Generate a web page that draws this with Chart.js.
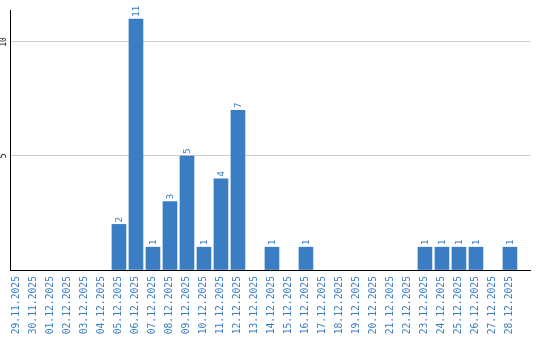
<!DOCTYPE html>
<html>
<head>
<meta charset="utf-8">
<script src="https://cdn.jsdelivr.net/npm/chart.js@4/dist/chart.umd.min.js"></script>
<style>
  html, body { margin: 0; padding: 0; background: #ffffff; }
  #chart { display: block; }
</style>
</head>
<body>
<canvas id="chart" width="540" height="340"></canvas>
<script>
// dates on the x axis, one bar per day
const dayLabels = [
  "29.11.2025", "30.11.2025", "01.12.2025", "02.12.2025", "03.12.2025",
  "04.12.2025", "05.12.2025", "06.12.2025", "07.12.2025", "08.12.2025",
  "09.12.2025", "10.12.2025", "11.12.2025", "12.12.2025", "13.12.2025",
  "14.12.2025", "15.12.2025", "16.12.2025", "17.12.2025", "18.12.2025",
  "19.12.2025", "20.12.2025", "21.12.2025", "22.12.2025", "23.12.2025",
  "24.12.2025", "25.12.2025", "26.12.2025", "27.12.2025", "28.12.2025",
];
// count per day
const dayCounts = [
  0, 0, 0, 0, 0, 0, 2, 11, 1, 3,
  5, 1, 4, 7, 0, 1, 0, 1, 0, 0,
  0, 0, 0, 0, 1, 1, 1, 1, 0, 1,
];
// y axis ticks that carry a label
const yTicks = [5, 10];

const barColor = "#3a7dc3";
const textBlue = "#3a7dc3";

//value labels above each bar
const valueLabels = {
  id: "valueLabels",
  afterDatasetsDraw(chart) {
    const ctx = chart.ctx;
    const meta = chart.getDatasetMeta(0);
    ctx.save();
    ctx.fillStyle = textBlue;
    ctx.font = "9.5px 'DejaVu Sans Mono'";
    ctx.textAlign = "left";
    ctx.textBaseline = "middle";
    meta.data.forEach((bar, i) => {
      const v = dayCounts[i];
      if (!v) return;
      ctx.save();
      ctx.translate(bar.x + 1, bar.y - 2);
      ctx.rotate(-Math.PI / 2);
      ctx.fillText(String(v), 0, 0);
      ctx.restore();
    });
    ctx.restore();
  },
};

new Chart(document.getElementById("chart"), {
  type: "bar",
  plugins: [valueLabels],
  data: {
    datasets: [
      {
        // days with no entries get no bar at all
        data: dayCounts.map((v, i) => ({ x: i, y: v === 0 ? null : v })),
        backgroundColor: barColor,
        barThickness: 14,
      },
    ],
  },
  options: {
    responsive: false,
    animation: false,
    layout: { padding: { top: 10, right: 10, left: 0, bottom: 0 } },
    plugins: { legend: { display: false }, tooltip: { enabled: false } },
    scales: {
      x: {
        type: "linear",
        offset: false,
        min: -0.41,
        max: 30.18,
        grid: { display: false, drawTicks: false, offset: false },
        border: { display: true, color: "#000000", width: 1 },
        afterFit: (scale) => {
          scale.height = 70;
          scale.paddingLeft = 0;
          scale.paddingRight = 0;
        },
        ticks: {
          stepSize: 1,
          includeBounds: false,
          autoSkip: false,
          minRotation: 90,
          maxRotation: 90,
          padding: 6,
          color: textBlue,
          font: { family: "'DejaVu Sans Mono'", size: 9.7 },
          callback: (value) => (Number.isInteger(value) && dayLabels[value]) || "",
        },
      },
      y: {
        min: 0,
        max: 11.4,
        afterFit: (scale) => { scale.width = 10; },
        grid: {
          drawTicks: false,
          color: (c) => (yTicks.includes(c.tick.value) ? "#cccccc" : "rgba(0,0,0,0)"),
        },
        border: { display: true, color: "#000000", width: 1 },
        ticks: {
          stepSize: 5,
          includeBounds: false,
          minRotation: 90,
          maxRotation: 90,
          crossAlign: "center",
          padding: 1,
          color: "#000000",
          font: { family: "'DejaVu Sans Mono'", size: 8 },
          callback: (value) => (yTicks.includes(value) ? String(value) : ""),
        },
      },
    },
  },
});
</script>
</body>
</html>
